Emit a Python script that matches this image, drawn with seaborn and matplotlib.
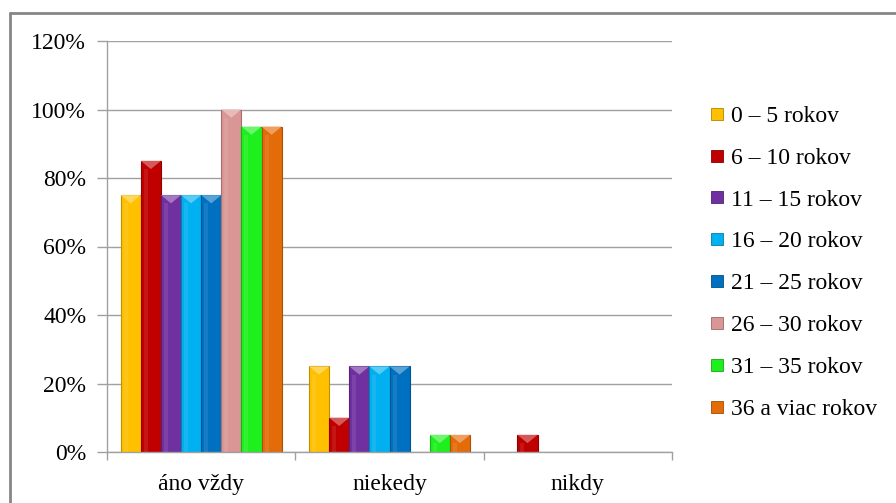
import matplotlib
matplotlib.use("Agg")
import matplotlib.pyplot as plt
import matplotlib.ticker as mticker
from matplotlib.lines import Line2D
from matplotlib.patches import Polygon
import seaborn as sns
import pandas as pd
import numpy as np

# Survey answers by length of practice
categories = ["áno vždy", "niekedy", "nikdy"]
groups = ["0 – 5 rokov", "6 – 10 rokov", "11 – 15 rokov", "16 – 20 rokov",
          "21 – 25 rokov", "26 – 30 rokov", "31 – 35 rokov", "36 a viac rokov"]
share_always = [75, 85, 75, 75, 75, 100, 95, 95]
share_sometimes = [25, 10, 25, 25, 25, 0, 5, 5]
share_never = [0, 5, 0, 0, 0, 0, 0, 0]
colors = ["#FFC000", "#C00000", "#7030A0", "#00B0F0",
          "#0070C0", "#D99694", "#1EF01E", "#E36C09"]

rows = []
for cat, vals in zip(categories, [share_always, share_sometimes, share_never]):
    for g, v in zip(groups, vals):
        rows.append({"odpoved": cat, "skupina": g, "podiel": v})
df = pd.DataFrame(rows)

sns.set_theme(style="white")
plt.rcParams["font.family"] = ["Liberation Serif", "DejaVu Serif"]
plt.rcParams["text.color"] = "black"
plt.rcParams["xtick.color"] = "black"
plt.rcParams["ytick.color"] = "black"

fig = plt.figure(figsize=(8.96, 5.03), dpi=100)
ax = fig.add_axes([107 / 896, 51 / 503, (672 - 107) / 896, (452 - 41) / 503])

sns.barplot(data=df, x="odpoved", y="podiel", hue="skupina",
            hue_order=groups, order=categories, palette=colors, saturation=1,
            width=0.855, gap=0, ax=ax, legend=False,
            edgecolor="none", linewidth=0)


def shade(c, f):
    rgb = np.array(matplotlib.colors.to_rgb(c))
    if f > 0:
        return tuple(rgb + (1 - rgb) * f)
    return tuple(rgb * (1 + f))


# bevelled look: soft rim, light top chevron, highlight stripe
for patch in list(ax.patches):
    h = patch.get_height()
    if h <= 0:
        continue
    fc = patch.get_facecolor()
    x0, y0 = patch.get_x(), patch.get_y()
    w = patch.get_width()
    patch.set_edgecolor(shade(fc, -0.25))
    patch.set_linewidth(0.8)
    bev = min(2.4, h * 0.5)
    ax.add_patch(Polygon([(x0, y0 + h), (x0 + w, y0 + h), (x0 + w / 2, y0 + h - bev)],
                         closed=True, facecolor=shade(fc, 0.35), edgecolor="none",
                         zorder=patch.get_zorder() + 0.1))
    ax.add_patch(Polygon([(x0 + w * 0.15, y0 + h - bev), (x0 + w * 0.35, y0 + h - bev),
                          (x0 + w * 0.35, y0), (x0 + w * 0.15, y0)],
                         closed=True, facecolor=shade(fc, 0.15), edgecolor="none",
                         alpha=0.6, zorder=patch.get_zorder() + 0.05))

ax.set_ylim(0, 120)
ax.set_xlim(-0.5, 2.5)
ax.yaxis.set_major_locator(mticker.MultipleLocator(20))
ax.yaxis.set_major_formatter(mticker.FuncFormatter(lambda v, p: f"{v:.0f}%"))
ax.grid(axis="y", color="#A0A0A0", linewidth=1.0)
ax.set_axisbelow(True)

for s in ["top", "right"]:
    ax.spines[s].set_visible(False)
for s in ["left", "bottom"]:
    ax.spines[s].set_color("#A0A0A0")
    ax.spines[s].set_linewidth(1.0)

ax.tick_params(axis="y", which="major", direction="out", length=7, width=1,
               color="#A0A0A0", left=True, labelsize=17, pad=8, labelcolor="black")
ax.set_xticks(range(len(categories)))
ax.set_xticklabels(categories)
ax.tick_params(axis="x", which="major", length=0, labelsize=17, pad=16,
               labelcolor="black")
ax.set_xticks([-0.5, 0.5, 1.5, 2.5], minor=True)
ax.tick_params(axis="x", which="minor", direction="out", length=6, width=1,
               color="#A0A0A0", bottom=True)
ax.set_xlabel("")
ax.set_ylabel("")

handles = [Line2D([0], [0], marker="s", linestyle="none", markersize=8,
                  markerfacecolor=c, markeredgecolor=shade(c, -0.3),
                  markeredgewidth=0.6)
           for c in colors]
leg = fig.legend(handles, groups, loc="upper left",
                 bbox_to_anchor=(700 / 896, 1 - 96 / 503),
                 frameon=False, fontsize=17, handlelength=0.6, handletextpad=0.3,
                 labelspacing=0.86, borderaxespad=0)
for t in leg.get_texts():
    t.set_color("black")

# outer chart frame
fig.add_artist(Line2D([10 / 896, 10 / 896], [0, 1 - 13 / 503], transform=fig.transFigure,
                      color="#868686", linewidth=2))
fig.add_artist(Line2D([10 / 896, 1], [1 - 13 / 503, 1 - 13 / 503], transform=fig.transFigure,
                      color="#868686", linewidth=2))

fig.savefig("out.png", dpi=100)
